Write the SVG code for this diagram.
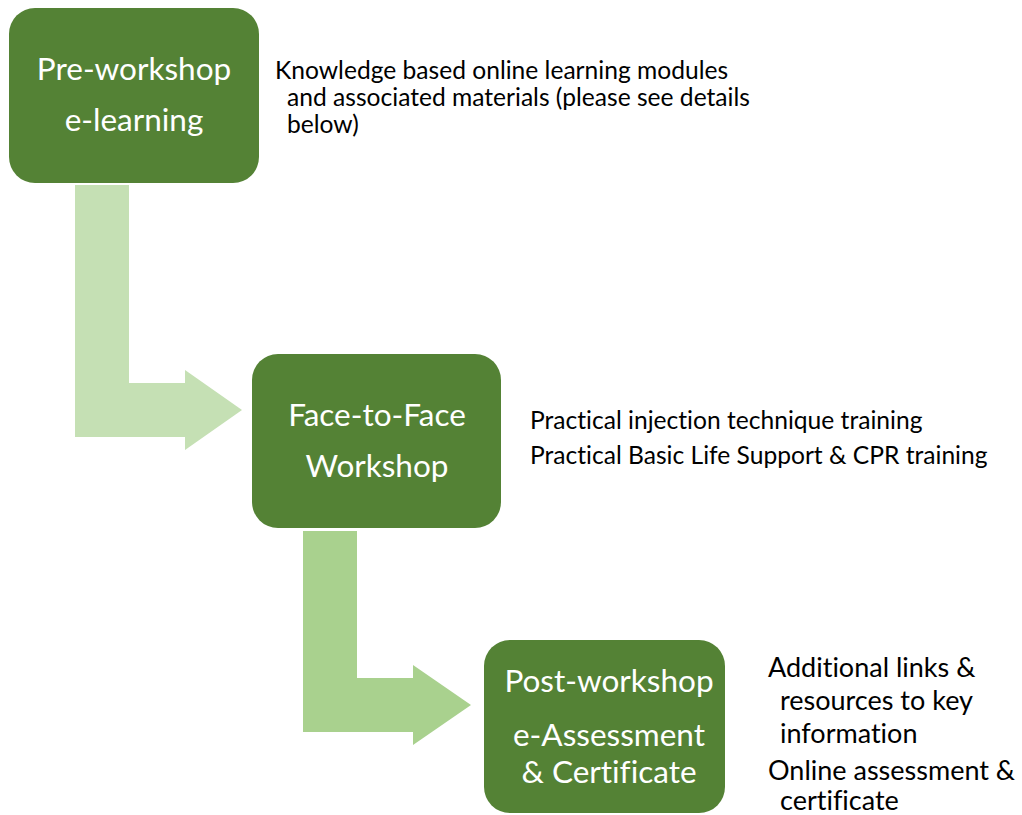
<svg xmlns="http://www.w3.org/2000/svg" width="1022" height="815" viewBox="0 0 1022 815">
<style>
.box{fill:#548235}
text{font-variant-ligatures:none;font-feature-settings:"liga" 0,"clig" 0}
.bt{font-family:Lato,"Open Sans",sans-serif;font-size:31.5px;fill:#fff;text-anchor:middle}
.dt{font-family:Lato,"Open Sans",sans-serif;font-size:24.6px;fill:#000}
.dt3{font-size:27px}
</style>
<rect width="1022" height="815" fill="#fff"/>
<g id="connectors">
<path d="M75,185 H129 V383 H185 V370 L242,410 L185,450 V437 H75 Z" fill="#C5E0B4"/>
<path d="M303,531 H357 V678 H413 V665 L471,705 L413,745 V732 H303 Z" fill="#A9D18E"/>
</g>
<g id="node1">
<rect class="box" x="9" y="8" width="250" height="175" rx="26"/>
<text class="bt" x="134" y="80">Pre-workshop</text>
<text class="bt" x="134" y="131">e-learning</text>
</g>
<g id="node1-notes">
<text class="dt" x="275" y="79">Knowledge based online learning modules</text>
<text class="dt" x="287" y="106">and associated materials (please see details</text>
<text class="dt" x="287" y="133">below)</text>
</g>
<g id="node2">
<rect class="box" x="252" y="354" width="249" height="174" rx="26"/>
<text class="bt" x="377" y="426">Face-to-Face</text>
<text class="bt" x="377" y="477">Workshop</text>
</g>
<g id="node2-notes">
<text class="dt" x="530" y="429">Practical injection technique training</text>
<text class="dt" x="530" y="464">Practical Basic Life Support &amp; CPR training</text>
</g>
<g id="node3">
<rect class="box" x="484" y="640" width="241" height="173" rx="26"/>
<text class="bt" x="609" y="692">Post-workshop</text>
<text class="bt" x="609" y="746">e-Assessment</text>
<text class="bt" x="609" y="783">&amp; Certificate</text>
</g>
<g id="node3-notes">
<text class="dt dt3" x="768" y="677">Additional links &amp;</text>
<text class="dt dt3" x="780" y="710">resources to key</text>
<text class="dt dt3" x="780" y="743">information</text>
<text class="dt dt3" x="768" y="780">Online assessment &amp;</text>
<text class="dt dt3" x="780" y="810">certificate</text>
</g>
</svg>
